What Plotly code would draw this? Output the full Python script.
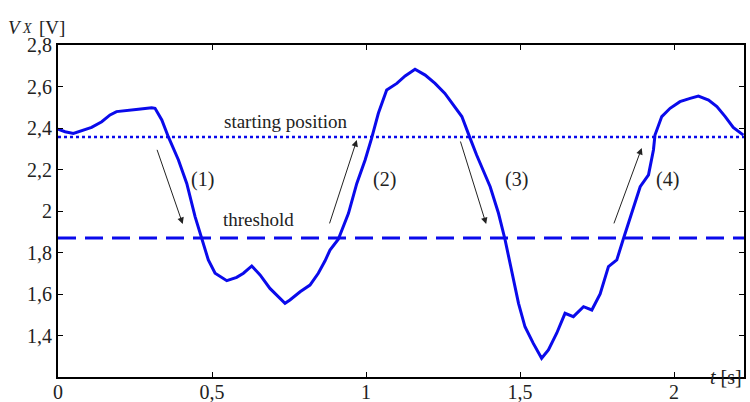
import plotly.graph_objects as go

# Measured signal V_X over time
t_s = [0.000,0.023,0.050,0.077,0.109,0.142,0.169,0.190,0.228,0.261,0.304,0.315,0.337,0.358,0.391,0.418,0.445,0.467,0.488,0.510,
       0.548,0.580,0.602,0.629,0.656,0.688,0.721,0.737,0.753,0.786,0.818,0.845,0.867,0.883,0.910,0.943,0.970,0.997,1.018,1.040,
       1.067,1.100,1.127,1.159,1.192,1.224,1.256,1.289,1.311,1.338,1.359,1.403,1.430,1.451,1.473,1.495,1.516,1.543,1.570,1.592,
       1.619,1.646,1.673,1.706,1.733,1.760,1.787,1.814,1.835,1.863,1.890,1.917,1.933,1.938,1.960,1.987,2.019,2.052,2.079,2.112,
       2.139,2.166,2.192,2.225]
vx = [2.394,2.382,2.374,2.387,2.403,2.430,2.463,2.479,2.483,2.490,2.498,2.495,2.439,2.358,2.246,2.133,1.973,1.860,1.764,1.700,
      1.664,1.680,1.700,1.735,1.692,1.627,1.579,1.555,1.571,1.611,1.643,1.700,1.760,1.812,1.864,1.989,2.133,2.246,2.350,2.471,
      2.583,2.615,2.651,2.683,2.655,2.615,2.567,2.503,2.455,2.350,2.270,2.117,1.989,1.864,1.716,1.555,1.442,1.362,1.290,1.330,
      1.411,1.507,1.491,1.539,1.523,1.600,1.732,1.764,1.864,1.989,2.117,2.174,2.294,2.366,2.455,2.495,2.527,2.543,2.554,2.535,
      2.503,2.455,2.403,2.366]

starting_position = 2.357
threshold = 1.87

x_ticks = [0, 0.5, 1, 1.5, 2]
x_tick_labels = ["0", "0,5", "1", "1,5", "2"]
y_ticks = [1.4, 1.6, 1.8, 2.0, 2.2, 2.4, 2.6, 2.8]
y_tick_labels = ["1,4", "1,6", "1,8", "2", "2,2", "2,4", "2,6", "2,8"]

# Phase arrows: (tail_t, tail_v, head_t, head_v) and labels
arrows = [(0.320, 2.302, 0.405, 1.937),
          (0.880, 1.933, 0.970, 2.342),
          (1.305, 2.342, 1.390, 1.937),
          (1.803, 1.933, 1.895, 2.304)]
phase_labels = ["(1)", "(2)", "(3)", "(4)"]
phase_label_t = [0.470, 1.060, 1.490, 1.980]
phase_label_v = 2.15

T_MIN, T_MAX = 0.0, 2.227
V_MIN, V_MAX = 1.2, 2.8
BLUE = "rgb(10,10,235)"
FONT = "Liberation Serif, Times New Roman, DejaVu Serif, serif"
TXT = "#222"

fig = go.Figure()
fig.add_trace(go.Scatter(x=[T_MIN, T_MAX], y=[starting_position]*2, mode="lines",
                         line=dict(color=BLUE, width=2.5, dash="dot"), hoverinfo="skip"))
fig.add_trace(go.Scatter(x=[T_MIN, T_MAX], y=[threshold]*2, mode="lines",
                         line=dict(color=BLUE, width=3, dash="18px,9px"), hoverinfo="skip"))
fig.add_trace(go.Scatter(x=t_s, y=vx, mode="lines", line=dict(color=BLUE, width=3)))

for (t0, v0, t1, v1) in arrows:
    fig.add_annotation(x=t1, y=v1, ax=t0, ay=v0, xref="x", yref="y", axref="x", ayref="y",
                       showarrow=True, arrowhead=2, arrowsize=1.3, arrowwidth=1, arrowcolor=TXT,
                       text="")
for lab, lt in zip(phase_labels, phase_label_t):
    fig.add_annotation(x=lt, y=phase_label_v, text=lab, showarrow=False,
                       font=dict(family=FONT, size=20, color=TXT))

fig.add_annotation(x=0.737, y=starting_position, yshift=15, text="starting position", showarrow=False,
                   font=dict(family=FONT, size=19, color=TXT))
fig.add_annotation(x=0.650, y=threshold, yshift=18, text="threshold", showarrow=False,
                   font=dict(family=FONT, size=19, color=TXT))

# y-axis title V_X [V], built from three pieces so the subscript box stays compact
fig.add_annotation(xref="paper", yref="paper", x=-0.0758, y=1.0, yshift=30, xanchor="left",
                   text="<i>V</i>", showarrow=False, font=dict(family=FONT, size=19, color=TXT))
fig.add_annotation(xref="paper", yref="paper", x=-0.0555, y=1.0, yshift=26, xanchor="left",
                   text="<i>X</i>", showarrow=False, font=dict(family=FONT, size=14, color=TXT))
fig.add_annotation(xref="paper", yref="paper", x=-0.0306, y=1.0, yshift=30, xanchor="left",
                   text="[V]", showarrow=False, font=dict(family=FONT, size=19, color=TXT))
fig.add_annotation(xref="paper", yref="paper", x=1.0, y=0, yshift=-13, xanchor="right",
                   text="<i>t</i> [s]", showarrow=False,
                   font=dict(family=FONT, size=20, color=TXT))

axis_common = dict(showgrid=False, zeroline=False, showline=True, linecolor="black", linewidth=2,
                   mirror="ticks", ticks="inside", ticklen=5, tickcolor="black", tickwidth=1,
                   tickfont=dict(family=FONT, size=20, color=TXT), automargin=False)
fig.update_xaxes(range=[T_MIN, T_MAX], tickvals=x_ticks, ticktext=x_tick_labels,
                 ticklabelstandoff=-4, **axis_common)
fig.update_yaxes(range=[V_MIN, V_MAX], tickvals=y_ticks, ticktext=y_tick_labels, **axis_common)

fig.update_layout(width=750, height=402, showlegend=False, plot_bgcolor="white", paper_bgcolor="white",
                  margin=dict(l=58, r=6, t=45, b=25))
fig.write_html("out.html", config={"displayModeBar": False},
               post_script="document.body.style.margin='0';document.body.style.padding='0';")
